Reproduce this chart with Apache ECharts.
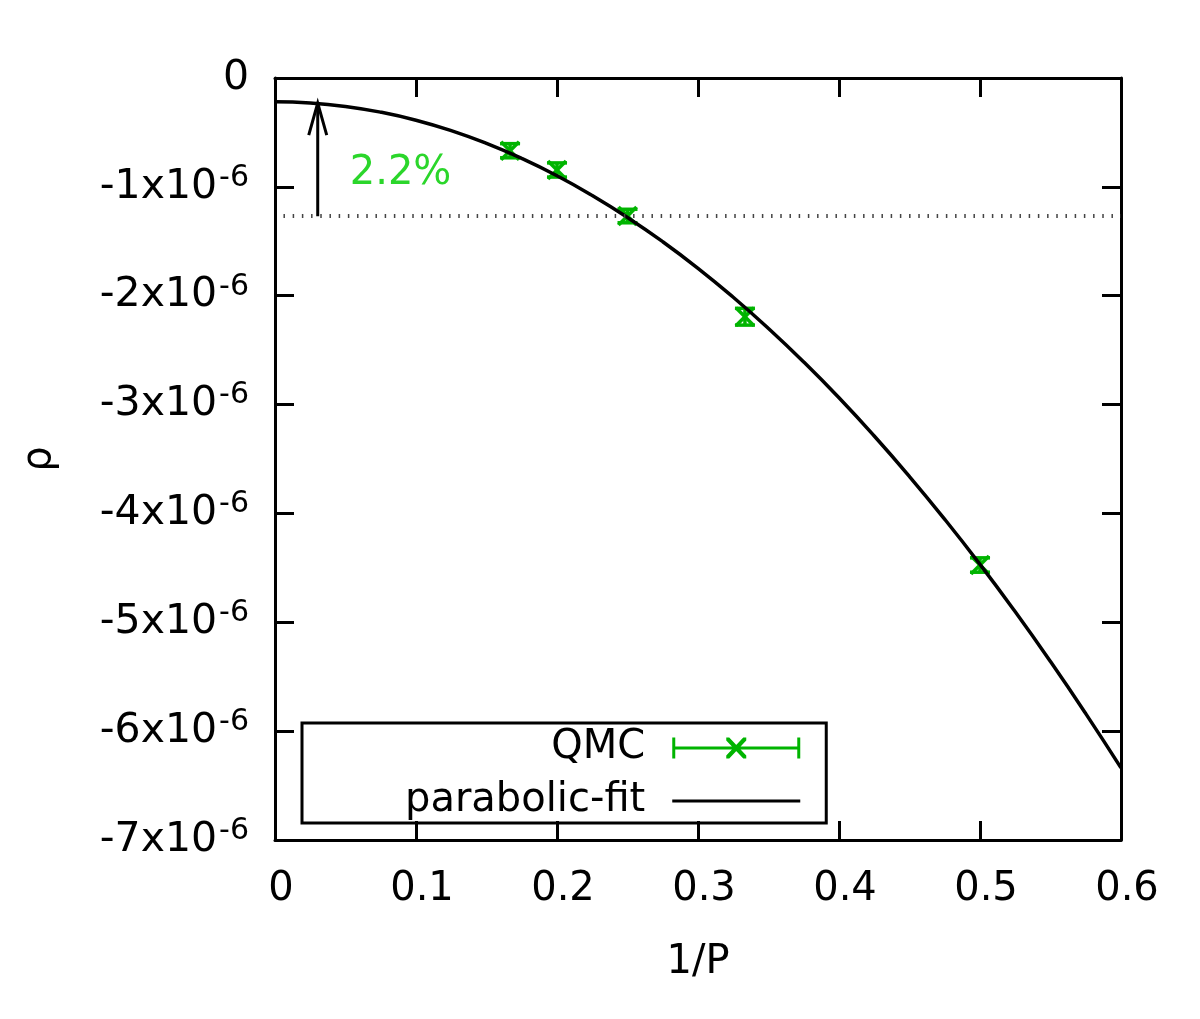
<!DOCTYPE html>
<html>
<head>
<meta charset="utf-8">
<script src="https://cdn.jsdelivr.net/npm/echarts@6/dist/echarts.min.js"></script>
<style>
  html, body { margin: 0; padding: 0; background: #fff; }
  #chart { width: 1200px; height: 1019px; }
</style>
</head>
<body>
<div id="chart"></div>
<script>
// QMC points: 1/P and rho in units of 1e-6
const invP = [0.1667, 0.2, 0.25, 0.3333, 0.5]
const rhoQMC = [-0.668, -0.845, -1.268, -2.193, -4.474]
const rhoErr = [0.065, 0.065, 0.062, 0.077, 0.066]

// parabolic fit
const fitX = [0, 0.025, 0.05, 0.075, 0.1, 0.125, 0.15, 0.175, 0.2, 0.225, 0.25, 0.275, 0.3,
  0.325, 0.35, 0.375, 0.4, 0.425, 0.45, 0.475, 0.5, 0.525, 0.55, 0.575, 0.6]
const fitRho = [-0.218, -0.229, -0.261, -0.314, -0.388, -0.484, -0.601, -0.739, -0.898, -1.079, -1.281, -1.504, -1.748,
  -2.014, -2.301, -2.609, -2.938, -3.289, -3.661, -4.054, -4.468, -4.904, -5.361, -5.839, -6.338]

// annotation: dotted level, arrow, label
const levelRho = -1.27
const levelX = [0.006, 0.6]
const arrowX = 0.0303
const arrowTip = -0.23
const labelPos = [0.053, -0.88]
const labelText = '2.2%'

const xTicks = { min: 0, max: 0.6, step: 0.1 }
const yTicks = { min: -7, max: 0, step: 1 }

const green = '#00b400'
const font = 'DejaVu Sans'

const chart = echarts.init(document.getElementById('chart'))

// legend icons drawn in a 128x21 box
const qmcIcon = 'path://M0 0H3V21H0Z M125 0H128V21H125Z M0 9H128V12H0Z ' +
  'M54 0L57 0L74 18L74 21L71 21L54 3Z M74 0L74 3L57 21L54 21L54 18L71 0Z'
const fitIcon = 'path://M0 0H0.01V0.01H0Z M0 20.99H0.01V21H0Z M0 9H128V12H0Z'

const axisCommon = {
  type: 'value',
  axisLine: { show: true, onZero: false, lineStyle: { color: '#000', width: 3 } },
  axisTick: { show: true, inside: true, length: 19, lineStyle: { color: '#000', width: 3 } },
  splitLine: { show: false }
}

const option = {
  backgroundColor: '#fff',
  animation: false,
  textStyle: { fontFamily: font },
  grid: { left: 275, right: 79, top: 78, bottom: 179 },
  legend: {
    left: 302,
    top: 723,
    orient: 'vertical',
    align: 'right',
    selectedMode: false,
    itemWidth: 128,
    itemHeight: 21,
    itemGap: 9,
    padding: [3, 26, 0, 103],
    borderColor: '#000',
    borderWidth: 3,
    borderRadius: 0,
    textStyle: { fontSize: 40, color: '#000', fontFamily: font, lineHeight: 44, padding: [0, 22, 0, 0] },
    data: [
      { name: 'QMC', icon: qmcIcon },
      { name: 'parabolic-fit', icon: fitIcon }
    ]
  },
  xAxis: [
    Object.assign({}, axisCommon, {
      position: 'bottom',
      min: xTicks.min, max: xTicks.max, interval: xTicks.step,
      name: '1/P',
      nameLocation: 'middle',
      nameGap: 103,
      nameTextStyle: { fontSize: 40, color: '#000', fontFamily: font },
      axisLabel: { fontSize: 40, color: '#000', fontFamily: font, margin: 30, padding: [0, 0, 0, 12] }
    }),
    Object.assign({}, axisCommon, {
      position: 'top',
      min: xTicks.min, max: xTicks.max, interval: xTicks.step,
      axisLabel: { show: false }
    })
  ],
  yAxis: [
    Object.assign({}, axisCommon, {
      position: 'left',
      min: yTicks.min, max: yTicks.max, interval: yTicks.step,
      name: 'ρ',
      nameLocation: 'middle',
      nameRotate: 90,
      nameGap: 215,
      nameTextStyle: { fontSize: 40, color: '#000', fontFamily: font },
      axisLabel: {
        margin: 26,
        color: '#000',
        formatter: (v) => (v === 0 ? '{b|0}' : '{b|' + v + 'x10}{s|-6}'),
        rich: {
          b: { fontSize: 41, fontFamily: font, color: '#000', lineHeight: 48 },
          s: { fontSize: 30, fontFamily: font, color: '#000', lineHeight: 27, verticalAlign: 'top', padding: [0, 0, 0, 2] }
        }
      }
    }),
    Object.assign({}, axisCommon, {
      position: 'right',
      min: yTicks.min, max: yTicks.max, interval: yTicks.step,
      axisLabel: { show: false }
    })
  ],
  series: [
    {
      name: 'QMC',
      type: 'custom',
      itemStyle: { color: green },
      data: invP.map((x, i) => [x, rhoQMC[i], rhoErr[i]]),
      renderItem: (params, api) => {
        const x = api.value(0)
        const y = api.value(1)
        const e = api.value(2)
        const c = api.coord([x, y])
        const t = api.coord([x, y + e])
        const b = api.coord([x, y - e])
        const st = { stroke: green, lineWidth: 3.5, fill: null }
        const seg = (x1, y1, x2, y2) => ({ type: 'line', shape: { x1, y1, x2, y2 }, style: st })
        return {
          type: 'group',
          children: [
            seg(c[0], t[1], c[0], b[1]),
            seg(c[0] - 10, t[1], c[0] + 10, t[1]),
            seg(c[0] - 10, b[1], c[0] + 10, b[1]),
            seg(c[0] - 9, c[1] - 9, c[0] + 9, c[1] + 9),
            seg(c[0] - 9, c[1] + 9, c[0] + 9, c[1] - 9)
          ]
        }
      }
    },
    {
      name: 'parabolic-fit',
      type: 'line',
      smooth: true,
      symbol: 'none',
      z: 3,
      lineStyle: { color: '#000', width: 3.5 },
      itemStyle: { color: '#000' },
      data: fitX.map((x, i) => [x, fitRho[i]]),
      markLine: {
        silent: true,
        symbol: 'none',
        label: { show: false },
        lineStyle: { color: '#444', width: 4, type: [1.5, 7.7] },
        data: [[{ coord: [levelX[0], levelRho] }, { coord: [levelX[1], levelRho] }]]
      }
    },
    {
      name: 'arrow',
      type: 'custom',
      silent: true,
      z: 4,
      data: [[arrowX, levelRho, arrowTip]],
      renderItem: (params, api) => {
        const p0 = api.coord([api.value(0), api.value(1)])
        const p1 = api.coord([api.value(0), api.value(2)])
        const lp = api.coord(labelPos)
        const st = { stroke: '#000', lineWidth: 3, fill: null }
        return {
          type: 'group',
          children: [
            { type: 'line', shape: { x1: p0[0], y1: p0[1], x2: p1[0], y2: p1[1] }, style: st },
            { type: 'polyline', shape: { points: [[p1[0] - 9, p1[1] + 32], [p1[0], p1[1]], [p1[0] + 9, p1[1] + 32]] }, style: st },
            { type: 'text', x: lp[0], y: lp[1], style: { text: labelText, fill: '#2bd62b', fontSize: 40, fontFamily: font, align: 'left', verticalAlign: 'middle' } }
          ]
        }
      }
    }
  ]
}

chart.setOption(option)
</script>
</body>
</html>
